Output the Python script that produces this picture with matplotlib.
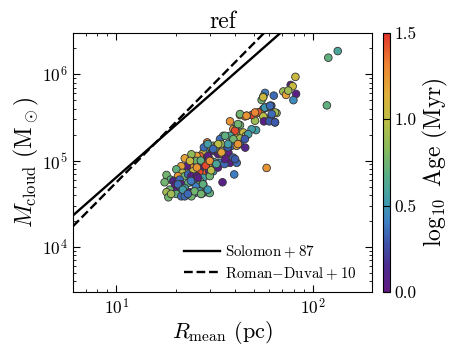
import numpy as np
import matplotlib
matplotlib.use("Agg")
import matplotlib.pyplot as plt
from matplotlib.colors import LinearSegmentedColormap

plt.rcParams['font.family'] = 'serif'
plt.rcParams['font.serif'] = ['cmr10']
plt.rcParams['mathtext.fontset'] = 'cm'
plt.rcParams['axes.formatter.use_mathtext'] = True
plt.rcParams['axes.unicode_minus'] = False

# --- data ---
R_mean = [134, 120, 118, 58.2, 81.6, 77.2, 79.0, 82.2, 79.7, 70.8, 73.1, 63.3, 57.1, 56.0, 54.9,
          61.5, 60.5, 58.2, 57.1, 56.0, 53.9, 50.8, 52.8, 65.4, 61.0, 56.0, 56.4, 50.8, 51.4, 64.2,
          60.1, 48.9, 46.1, 42.6, 45.2, 37.9, 39.4, 41.3, 42.6, 41.0, 44.3, 45.7, 40.2, 40.2, 37.9,
          42.6, 39.4, 35.0, 36.4, 33.7, 38.6, 41.0, 42.6, 45.3, 31.1, 29.0, 29.4, 28.2, 27.7, 31.1,
          32.4, 33.0, 34.3, 37.2, 37.9, 41.0, 39.4, 39.8, 34.7, 26.6, 25.6, 24.1, 22.3, 24.1, 25.6,
          27.1, 28.8, 29.9, 31.7, 33.7, 31.1, 28.2, 26.6, 25.1, 23.7, 24.6, 26.6, 28.8, 29.7, 31.1,
          32.4, 22.8, 21.4, 20.2, 21.7, 20.6, 22.3, 23.2, 24.1, 25.6, 27.7, 29.9, 18.0, 18.9, 17.6,
          19.5, 19.9, 21.0, 21.4, 23.2, 24.6, 26.6, 27.7, 25.4, 22.3, 21.0, 19.9, 18.7, 18.0, 18.4,
          20.2, 21.4, 22.8, 23.7, 25.1, 26.6, 28.6, 29.9, 27.1, 24.1, 22.3,
          23.7, 25.7, 26.9, 28.5, 29.2, 30.4, 31.6, 32.9, 35.5, 27.9, 29.2, 31.6, 34.1, 36.9, 20.6,
          21.8, 24.0, 26.0, 27.6, 29.2, 25.0, 19.0, 23.1, 27.0,
          42.6, 46.0, 50.8, 57.0, 60.6, 64.2, 64.2, 41.6, 48.8, 46.9, 45.1, 39.4, 37.0, 41.6, 35.8,
          33.0, 31.1, 34.3, 29.3, 35.8, 40.2, 29.9, 32.3, 55.9, 60.6, 61.8, 75.0]
M_cloud = [1.85e6, 1.55e6, 4.35e5, 8.2e4, 9.3e5, 7.5e5, 7.25e5, 5.9e5, 5.0e5, 6.3e5, 5.75e5, 5.64e5,
           6.06e5, 5.5e5, 5.02e5, 4.31e5, 4.24e5, 4.13e5, 4.05e5, 3.95e5, 3.61e5, 3.44e5, 3.61e5,
           3.54e5, 3.16e5, 3.24e5, 2.84e5, 2.89e5, 2.25e5, 2.76e5, 2.84e5, 3.36e5, 3.30e5, 3.36e5,
           3.24e5, 2.84e5, 2.31e5, 2.52e5, 2.57e5, 2.11e5, 2.11e5, 1.93e5, 1.88e5, 2.21e5, 1.93e5,
           1.80e5, 1.69e5, 1.93e5, 1.48e5, 1.77e5, 1.48e5, 1.48e5, 1.55e5, 1.41e5, 1.48e5, 1.62e5,
           1.37e5, 1.29e5, 1.23e5, 1.29e5, 1.48e5, 1.18e5, 1.21e5, 1.23e5, 9.4e4, 9.4e4, 1.08e5,
           6.9e4, 5.6e4, 1.13e5, 1.13e5, 1.18e5, 1.06e5, 9.4e4, 9.9e4, 9.4e4, 9.4e4, 1.03e5, 9.4e4,
           9.4e4, 8.6e4, 8.2e4, 8.2e4, 7.9e4, 8.6e4, 7.5e4, 7.2e4, 7.2e4, 7.5e4, 7.5e4, 8.6e4, 8.6e4,
           8.6e4, 7.9e4, 7.2e4, 6.6e4, 6.6e4, 6.9e4, 6.6e4, 6.6e4, 6.3e4, 6.6e4, 6.8e4, 6.0e4, 5.6e4,
           5.8e4, 5.2e4, 6.0e4, 5.3e4, 5.5e4, 5.6e4, 5.8e4, 5.3e4, 5.0e4, 4.8e4, 4.6e4, 4.4e4, 4.6e4,
           4.3e4, 3.75e4, 4.1e4, 3.85e4, 4.0e4, 4.3e4, 4.2e4, 4.4e4, 4.3e4, 4.2e4, 4.1e4, 3.85e4,
           3.85e4,
           9.9e4, 8.3e4, 1.0e5, 8.7e4, 1.08e5, 7.7e4, 9.5e4, 8.3e4, 9.1e4, 1.42e5, 1.55e5, 1.36e5,
           1.55e5, 1.42e5, 5.3e4, 4.6e4, 5.8e4, 6.3e4, 5.3e4, 4.6e4, 4.4e4, 4.1e4, 4.1e4, 4.1e4,
           3.45e5, 3.3e5, 3.6e5, 4.1e5, 4.3e5, 3.6e5, 2.77e5, 2.64e5, 2.3e5, 2.02e5, 1.77e5, 1.77e5,
           1.55e5, 1.55e5, 1.93e5, 1.55e5, 1.36e5, 1.24e5, 1.13e5, 1.04e5, 1.04e5, 9.9e4, 9.1e4,
           5.4e5, 4.3e5, 3.45e5, 6.45e5]
log_age = [0.6, 0.7, 0.7, 1.25, 1.05, 0.05, 1.05, 0.05, 0.45, 0.9, 1.2, 0.35, 0.4, 1.05, 0.75,
           0.3, 0.3, 0.55, 0.4, 0.25, 1.25, 1.25, 1.4, 0.9, 0.3, 1.0, 0.05, 0.9, 0.55, 0.35,
           0.3, 1.45, 1.3, 1.05, 1.3, 1.25, 1.25, 0.9, 0.75, 1.0, 1.05, 1.05, 1.2, 1.45, 0.6,
           0.9, 1.0, 0.7, 0.8, 0.35, 0.35, 1.2, 0.3, 0.1, 0.75, 1.3, 1.0, 0.55, 1.05, 0.05,
           1.2, 0.05, 1.0, 0.05, 0.05, 0.35, 0.35, 0.4, 0.05, 1.4, 1.2, 0.85, 1.2, 1.2, 0.75,
           0.05, 1.2, 1.25, 0.05, 0.4, 1.3, 0.7, 0.05, 1.2, 1.25, 1.05, 1.45, 1.4, 0.05, 0.55,
           0.7, 0.05, 1.2, 0.7, 1.0, 1.25, 0.75, 0.35, 0.05, 0.05, 0.55, 0.75, 0.75, 0.7, 0.75,
           0.1, 0.05, 0.35, 0.05, 0.7, 0.4, 0.75, 0.3, 0.4, 0.55, 0.35, 0.05, 0.75, 0.9, 0.75,
           0.7, 0.35, 0.75, 0.05, 0.35, 0.55, 0.4, 0.7, 0.75, 0.75, 0.35,
           1.05, 1.25, 0.7, 1.45, 0.05, 1.0, 0.55, 0.05, 0.35, 0.35, 0.55, 0.75, 0.9, 0.3, 0.35,
           0.55, 0.4, 0.05, 0.7, 0.5, 0.75, 0.9, 0.35, 0.75,
           0.75, 1.25, 1.3, 0.5, 0.3, 0.9, 0.3, 0.75, 0.55, 0.55, 0.3, 0.75, 0.55, 1.25, 0.7,
           1.0, 0.35, 1.2, 0.05, 0.05, 0.3, 1.25, 0.6, 1.05, 0.35, 0.35, 0.9]

# scaling relations (coefficient, exponent)
solomon_coef, solomon_exp = 640.0, 2.0
rd_coef, rd_exp = 280.0, 2.3
line_R = [6.0, 200.0]

cmap_colors = [(0.0, '#621a82'), (0.1, '#4c2c8f'), (0.18, '#3d50a6'), (0.27, '#3f80c4'),
               (0.34, '#3e9ab0'), (0.45, '#58ae86'), (0.55, '#88bb5e'), (0.67, '#bfbe44'),
               (0.77, '#e0ae3a'), (0.88, '#ee8232'), (1.0, '#e0332b')]
cmap = LinearSegmentedColormap.from_list('agecmap', cmap_colors)

fig = plt.figure(figsize=(4.58, 3.54), dpi=100)
ax = fig.add_axes([0.159, 0.175, 0.653, 0.732])
cax = fig.add_axes([0.836, 0.175, 0.0153, 0.732])

Rl = np.array(line_R)
ax.plot(Rl, solomon_coef * Rl ** solomon_exp, 'k-', lw=1.7, label=r'$\rm Solomon\:+\:87$')
ax.plot(Rl, rd_coef * Rl ** rd_exp, 'k--', lw=1.7, label=r'$\rm Roman{-}Duval\:+\:10$')

sc = ax.scatter(R_mean, M_cloud, c=log_age, cmap=cmap, vmin=0, vmax=1.5, s=30,
                edgecolors='#333333', linewidths=0.6, zorder=3)

ax.set_xscale('log')
ax.set_yscale('log')
ax.set_xlim(6, 200)
ax.set_ylim(3e3, 3e6)
ax.tick_params(which='both', direction='in', top=True, right=True, labelsize=12.5)
ax.tick_params(which='major', length=5, width=0.8)
ax.tick_params(which='minor', length=2.5, width=0.6)
ax.set_xlabel(r'$R_{\rm mean}$ (pc)', fontsize=16, labelpad=1)
ax.set_ylabel(r'$M_{\rm cloud}$ (${\rm M}_\odot$)', fontsize=17, labelpad=1)
ax.set_title('ref', fontsize=17, pad=3)
leg = ax.legend(loc='lower right', bbox_to_anchor=(0.985, 0.0), frameon=False,
                fontsize=10.8, handlelength=2.4, handletextpad=0.35, borderaxespad=0.3,
                labelspacing=0.3)

cb = fig.colorbar(sc, cax=cax, ticks=[0.0, 0.5, 1.0, 1.5])
cb.ax.set_yticklabels(['0.0', '0.5', '1.0', '1.5'])
cb.ax.tick_params(direction='in', length=5, width=0.8, labelsize=12.5)
cb.set_label(r'$\log_{10}$ Age (Myr)', fontsize=17, labelpad=3)

fig.savefig('out.png', dpi=100)
